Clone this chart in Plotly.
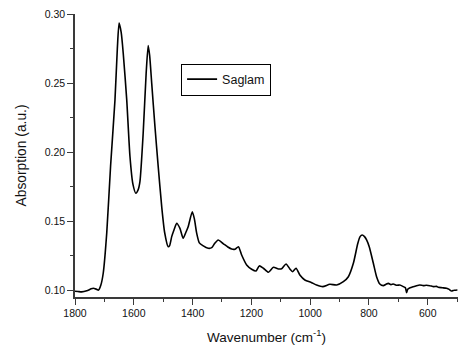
import plotly.graph_objects as go

wavenumber = [1800, 1790, 1777, 1760, 1745, 1738, 1728, 1720, 1712, 1704, 1692, 1679, 1664, 1656, 1650,
              1643, 1636, 1624, 1613, 1603, 1593, 1585, 1579, 1568, 1558, 1551, 1546, 1539, 1528, 1517,
              1505, 1495, 1483, 1478, 1471, 1463, 1454, 1443, 1432, 1423, 1415, 1401, 1394, 1386, 1377,
              1365, 1347, 1335, 1325, 1313, 1296, 1280, 1267, 1256, 1244, 1233, 1216, 1199, 1184, 1173,
              1159, 1142, 1125, 1108, 1097, 1082, 1069, 1060, 1048, 1035, 1018, 995, 978, 957, 933,
              910, 887, 870, 853, 838, 830, 823, 815, 808, 799, 785, 774, 763, 751, 742,
              734, 725, 717, 705, 695, 683, 676, 672, 668, 660, 649, 638, 627, 615, 605,
              593, 580, 570, 564, 550, 536, 527, 519, 510, 499]
absorption = [0.0995, 0.0993, 0.0990, 0.0998, 0.1012, 0.1016, 0.1010, 0.1003, 0.1040, 0.1125, 0.1417, 0.190, 0.238, 0.275, 0.2936,
              0.287, 0.272, 0.238, 0.197, 0.177, 0.1704, 0.173, 0.179, 0.214, 0.257, 0.2774, 0.270, 0.250, 0.2187, 0.190,
              0.1607, 0.142, 0.1317, 0.1325, 0.139, 0.144, 0.1487, 0.145, 0.1378, 0.142, 0.1462, 0.157, 0.152, 0.1415, 0.1345,
              0.1325, 0.1306, 0.131, 0.134, 0.1366, 0.134, 0.1315, 0.130, 0.1299, 0.1317, 0.1257, 0.1185, 0.1154, 0.1141, 0.1178,
              0.1161, 0.1132, 0.1168, 0.1156, 0.1158, 0.1192, 0.1156, 0.1136, 0.1161, 0.1112, 0.1076, 0.1057, 0.104, 0.1028, 0.1045,
              0.104, 0.1064, 0.110, 0.1197, 0.134, 0.139, 0.1402, 0.139, 0.1366, 0.1317, 0.1197, 0.110, 0.1047, 0.1035, 0.1045,
              0.1052, 0.1042, 0.1047, 0.1038, 0.104, 0.1028, 0.1020, 0.0984, 0.1010, 0.1020, 0.1028, 0.1035, 0.1040, 0.1035, 0.1038,
              0.1035, 0.1028, 0.1030, 0.1023, 0.1020, 0.1016, 0.1008, 0.0996, 0.1002, 0.1004]

x_ticks = [1800, 1600, 1400, 1200, 1000, 800, 600]
y_ticks = [0.10, 0.15, 0.20, 0.25, 0.30]

FONT = "Liberation Sans, Arial, sans-serif"
AX = "#3a3a3a"

fig = go.Figure()
fig.add_trace(go.Scatter(x=wavenumber, y=absorption, mode="lines", name="Saglam",
                         line=dict(color="black", width=1.6, shape="spline", smoothing=0.6)))

fig.update_layout(
    width=458, height=349,
    margin=dict(l=75, r=0, t=14, b=52),
    paper_bgcolor="white", plot_bgcolor="white",
    font=dict(family=FONT, color="#111", size=11),
    showlegend=True,
    legend=dict(x=0.277, y=0.825, xanchor="left", yanchor="top",
                bordercolor="black", borderwidth=1, bgcolor="white",
                font=dict(size=12.5, family=FONT, color="#111"),
                itemwidth=30, tracegroupgap=0),
    xaxis=dict(range=[1800, 497], autorange=False,
               tickmode="array", tickvals=x_ticks, ticktext=[str(v) for v in x_ticks],
               ticks="outside", ticklen=6, tickwidth=1.2, tickcolor=AX,
               minor=dict(dtick=100, tick0=0, ticks="outside", ticklen=3, tickwidth=1.2, tickcolor=AX),
               showline=True, linecolor=AX, linewidth=1.5, showgrid=False, zeroline=False,
               tickfont=dict(size=10.5, family=FONT, color="#111"),
               title=dict(text="Wavenumber (cm<sup>-1</sup>)", font=dict(size=13.5, family=FONT, color="#111"), standoff=14)),
    yaxis=dict(range=[0.0953, 0.3002], autorange=False,
               tickmode="array", tickvals=y_ticks, ticktext=["%.2f" % v for v in y_ticks],
               ticks="outside", ticklen=6, tickwidth=1.2, tickcolor=AX,
               minor=dict(dtick=0.025, tick0=0.0, ticks="outside", ticklen=3, tickwidth=1.2, tickcolor=AX),
               showline=True, linecolor=AX, linewidth=1.5, showgrid=False, zeroline=False,
               tickfont=dict(size=10.5, family=FONT, color="#111"),
               title=dict(text="Absorption (a.u.)", font=dict(size=13.8, family=FONT, color="#111"), standoff=15)),
)

fig.write_html("out.html")
